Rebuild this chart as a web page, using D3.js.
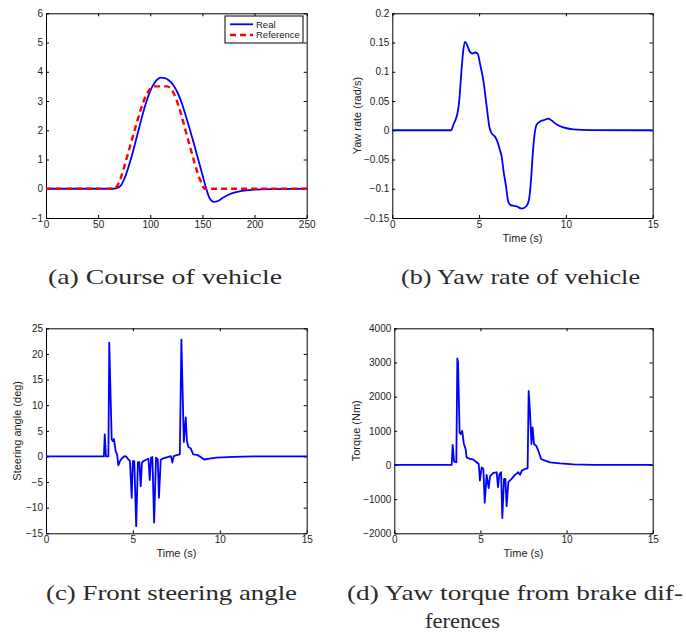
<!DOCTYPE html>
<html>
<head>
<meta charset="utf-8">
<script src="https://cdn.jsdelivr.net/npm/d3@7"></script>
<style>
  body { margin: 0; background: #fff; }
  svg { display: block; }
  .tick text { font-family: Helvetica, Arial, "Liberation Sans", sans-serif; font-size: 10px; fill: #222; }
  .lbl { font-family: Helvetica, Arial, "Liberation Sans", sans-serif; font-size: 11px; fill: #222; }
  .leg { font-family: Helvetica, Arial, "Liberation Sans", sans-serif; font-size: 9.5px; fill: #222; }
  .cap { font-family: "Liberation Serif", "Times New Roman", serif; font-size: 21px; fill: #2a2a2a; }
</style>
</head>
<body>
<svg id="fig" width="686" height="632"></svg>
<script>
// (a) course of vehicle
var courseT = [0, 64, 68, 72, 76, 80, 84, 88, 92, 96, 100, 104, 108, 110, 114, 118, 122, 126, 130, 134, 138, 142, 146, 150, 153, 156, 158, 161, 165, 170, 178, 188, 200, 215, 250];
var courseReal = [0, 0, 0.02, 0.12, 0.42, 0.85, 1.35, 1.9, 2.45, 2.95, 3.35, 3.62, 3.77, 3.8, 3.78, 3.7, 3.55, 3.3, 2.95, 2.5, 2.02, 1.52, 1.0, 0.48, 0.08, -0.25, -0.38, -0.45, -0.42, -0.3, -0.16, -0.07, -0.03, -0.01, 0];
var refT = [0, 65, 68, 71, 75, 79, 83, 87, 91, 95, 99, 102, 105, 116, 119, 122, 125, 129, 133, 137, 141, 145, 149, 152, 155, 250];
var courseRef = [0, 0, 0.08, 0.3, 0.75, 1.25, 1.75, 2.25, 2.72, 3.12, 3.38, 3.48, 3.5, 3.5, 3.45, 3.3, 3.05, 2.62, 2.1, 1.58, 1.07, 0.58, 0.2, 0, 0, 0];

// (b) yaw rate
var yawT = [0, 3.4, 3.51, 3.67, 3.76, 3.86, 4.0, 4.09, 4.2, 4.32, 4.47, 4.63, 4.76, 4.92, 5.05, 5.24, 5.44, 5.59, 5.72, 5.92, 6.05, 6.2, 6.3, 6.4, 6.55, 6.68, 6.82, 7.16, 7.45, 7.74, 7.87, 7.99, 8.08, 8.18, 8.32, 8.51, 8.74, 8.99, 9.18, 9.47, 9.85, 10.43, 11.4, 15];
var yawRate = [0, 0, 0.009, 0.02, 0.03, 0.052, 0.108, 0.137, 0.151, 0.145, 0.134, 0.131, 0.133, 0.131, 0.114, 0.086, 0.040, 0.006, -0.005, -0.011, -0.019, -0.034, -0.045, -0.068, -0.096, -0.122, -0.128, -0.130, -0.134, -0.129, -0.119, -0.085, -0.045, -0.011, 0.010, 0.015, 0.0175, 0.020, 0.0165, 0.010, 0.005, 0.0017, 0.0003, 0];

// (c) front steering angle
var steerT = [0, 3.33, 3.38, 3.45, 3.59, 3.64, 3.78, 3.855, 3.91, 4.01, 4.09, 4.16, 4.26, 4.35, 4.51, 4.64, 4.74, 4.83, 4.93, 5.0, 5.08, 5.19, 5.29, 5.37, 5.45, 5.52, 5.62, 5.79, 5.89, 5.97, 6.04, 6.12, 6.22, 6.33, 6.43, 6.50, 6.60, 6.70, 6.85, 7.04, 7.19, 7.27, 7.35, 7.52, 7.70, 7.79, 7.93, 8.04, 8.11, 8.2, 8.32, 8.47, 8.7, 8.9, 9.1, 9.4, 9.8, 10.8, 11.9, 15];
var steerAngle = [0, 0, 4.3, 0, 0, 22.2, 3.3, 3.0, 3.4, 1.0, 0.4, -1.75, -0.9, -0.45, 0.06, -0.1, -0.6, -0.87, -8.06, -0.9, -0.9, -13.6, -1.1, -1.1, -5.8, -1.2, -0.9, -0.6, -0.45, -4.6, -0.25, -0.1, -12.9, -0.25, -0.6, -8.06, -0.7, -0.45, -0.3, -0.1, 0.06, -1.2, 0.06, 0.26, 0.4, 22.8, 2.8, 7.6, 2.9, 1.8, 1.6, 0.4, 0.3, -0.1, -0.6, -0.45, -0.25, -0.1, 0, 0];

// (d) yaw torque from brake differences
var torqueT = [0, 3.33, 3.39, 3.47, 3.6, 3.66, 3.7, 3.79, 3.85, 3.94, 4.04, 4.14, 4.2, 4.4, 4.59, 4.78, 4.9, 4.97, 5.07, 5.17, 5.25, 5.36, 5.48, 5.56, 5.75, 5.94, 6.02, 6.1, 6.2, 6.27, 6.37, 6.45, 6.52, 6.62, 6.81, 7.0, 7.2, 7.3, 7.4, 7.59, 7.74, 7.8, 7.88, 7.96, 8.03, 8.11, 8.23, 8.36, 8.52, 8.75, 9.04, 9.62, 10.4, 11.55, 15];
var torque = [0, 0, 590, 100, 80, 3116, 3000, 950, 903, 1000, 612, 466, 223, 175, 155, 78, 30, -456, -68, -116, -1106, -290, -680, -330, -233, -214, -650, -272, -214, -1553, -408, -408, -1204, -505, -408, -290, -214, -290, -165, -116, -97, 2165, 1534, 612, 1097, 612, 563, 417, 175, 126, 78, 48, 19, 5, 0];

// ticks
var courseXTicks = [0, 50, 100, 150, 200, 250];
var courseYTicks = [-1, 0, 1, 2, 3, 4, 5, 6];
var timeTicks = [0, 5, 10, 15];
var yawYTicks = [-0.15, -0.1, -0.05, 0, 0.05, 0.1, 0.15, 0.2];
var steerYTicks = [-15, -10, -5, 0, 5, 10, 15, 20, 25];
var torqueYTicks = [-2000, -1000, 0, 1000, 2000, 3000, 4000];

var legendNames = ["Real", "Reference"];
var captions = ["(a) Course of vehicle", "(b) Yaw rate of vehicle", "(c) Front steering angle", "(d) Yaw torque from brake dif-", "ferences"];

var svg = d3.select("#fig");

function fmt(d) {
    return d3.format("")(d);
}

function drawPanel(box, xDomain, yDomain, xTicks, yTicks, yLabel, xLabel) {
    var x = d3.scaleLinear(xDomain, [box.left, box.right]);
    var y = d3.scaleLinear(yDomain, [box.bottom, box.top]);
    var g = svg.append("g");

    g.append("g")
        .attr("transform", "translate(0," + box.bottom + ")")
        .call(d3.axisBottom(x).tickValues(xTicks).tickFormat(fmt).tickSize(-3).tickSizeOuter(0).tickPadding(3));
    g.append("g")
        .attr("transform", "translate(0," + box.top + ")")
        .call(d3.axisTop(x).tickValues(xTicks).tickFormat("").tickSize(-3).tickSizeOuter(0));
    g.append("g")
        .attr("transform", "translate(" + box.left + ",0)")
        .call(d3.axisLeft(y).tickValues(yTicks).tickFormat(fmt).tickSize(-3).tickSizeOuter(0).tickPadding(3));
    g.append("g")
        .attr("transform", "translate(" + box.right + ",0)")
        .call(d3.axisRight(y).tickValues(yTicks).tickFormat("").tickSize(-3).tickSizeOuter(0));
    g.selectAll(".domain").attr("stroke", "#000").attr("stroke-width", 1);
    g.selectAll(".tick line").attr("stroke", "#000");

    if (yLabel) {
        g.append("text").attr("class", "lbl")
            .attr("transform", "translate(" + (box.left - box.labelGap) + "," + ((box.top + box.bottom) / 2) + ") rotate(-90)")
            .attr("text-anchor", "middle")
            .attr("dy", "0.35em")
            .text(yLabel);
    }
    if (xLabel) {
        g.append("text").attr("class", "lbl")
            .attr("x", (box.left + box.right) / 2).attr("y", box.bottom + 24)
            .attr("text-anchor", "middle")
            .text(xLabel);
    }
    return { g: g, x: x, y: y };
}

function drawLine(p, ts, vs, color, width, dash, curve) {
    var pts = ts.map(function(t, i) { return [t, vs[i]]; });
    var line = d3.line()
        .x(function(d) { return p.x(d[0]); })
        .y(function(d) { return p.y(d[1]); })
        .curve(curve || d3.curveLinear);
    p.g.append("path")
        .datum(pts)
        .attr("fill", "none")
        .attr("stroke", color)
        .attr("stroke-width", width)
        .attr("stroke-linejoin", "round")
        .attr("stroke-dasharray", dash)
        .attr("d", line);
}

// (a)
var pa = drawPanel({ left: 46, right: 306.7, top: 13.3, bottom: 218 }, [0, 250], [-1, 6], courseXTicks, courseYTicks, null, null);
drawLine(pa, courseT, courseReal, "#0000ff", 1.8, null, d3.curveMonotoneX);
drawLine(pa, refT, courseRef, "#ff0000", 2.4, "6,4", d3.curveMonotoneX);

// legend
var leg = pa.g.append("g");
leg.append("rect").attr("x", 225).attr("y", 16).attr("width", 78).attr("height", 27)
    .attr("fill", "#fff").attr("stroke", "#000").attr("stroke-width", 1);
var legColors = ["#0000ff", "#ff0000"];
legendNames.forEach(function(name, i) {
    var ly = 24.3 + i * 10.7;
    leg.append("line").attr("x1", 230).attr("x2", 253).attr("y1", ly).attr("y2", ly)
        .attr("stroke", legColors[i]).attr("stroke-width", i === 0 ? 1.8 : 2.4)
        .attr("stroke-dasharray", i === 0 ? null : "6,4");
    leg.append("text").attr("class", "leg").attr("x", 256).attr("y", ly + 3.4).text(name);
});

// (b)
var pb = drawPanel({ left: 392.3, right: 652.7, top: 13.3, bottom: 218, labelGap: 35.6 }, [0, 15], [-0.15, 0.2], timeTicks, yawYTicks, "Yaw rate (rad/s)", "Time (s)");
drawLine(pb, yawT, yawRate, "#0000ff", 1.8, null, d3.curveMonotoneX);

// (c)
var pc = drawPanel({ left: 46, right: 306.7, top: 328.3, bottom: 533.3, labelGap: 29.3 }, [0, 15], [-15, 25], timeTicks, steerYTicks, "Steering angle (deg)", "Time (s)");
drawLine(pc, steerT, steerAngle, "#0000ff", 1.8, null, d3.curveLinear);

// (d)
var pd = drawPanel({ left: 394.3, right: 652.7, top: 328.3, bottom: 533.3, labelGap: 38 }, [0, 15], [-2000, 4000], timeTicks, torqueYTicks, "Torque (Nm)", "Time (s)");
drawLine(pd, torqueT, torque, "#0000ff", 1.8, null, d3.curveLinear);

// captions
var capPos = [[48, 284, 234], [401, 284, 239], [46, 600, 251], [347, 600, 336], [425, 628, 75]];
captions.forEach(function(c, i) {
    svg.append("text").attr("class", "cap")
        .attr("x", capPos[i][0]).attr("y", capPos[i][1])
        .attr("textLength", capPos[i][2]).attr("lengthAdjust", "spacingAndGlyphs")
        .text(c);
});
</script>
</body>
</html>
